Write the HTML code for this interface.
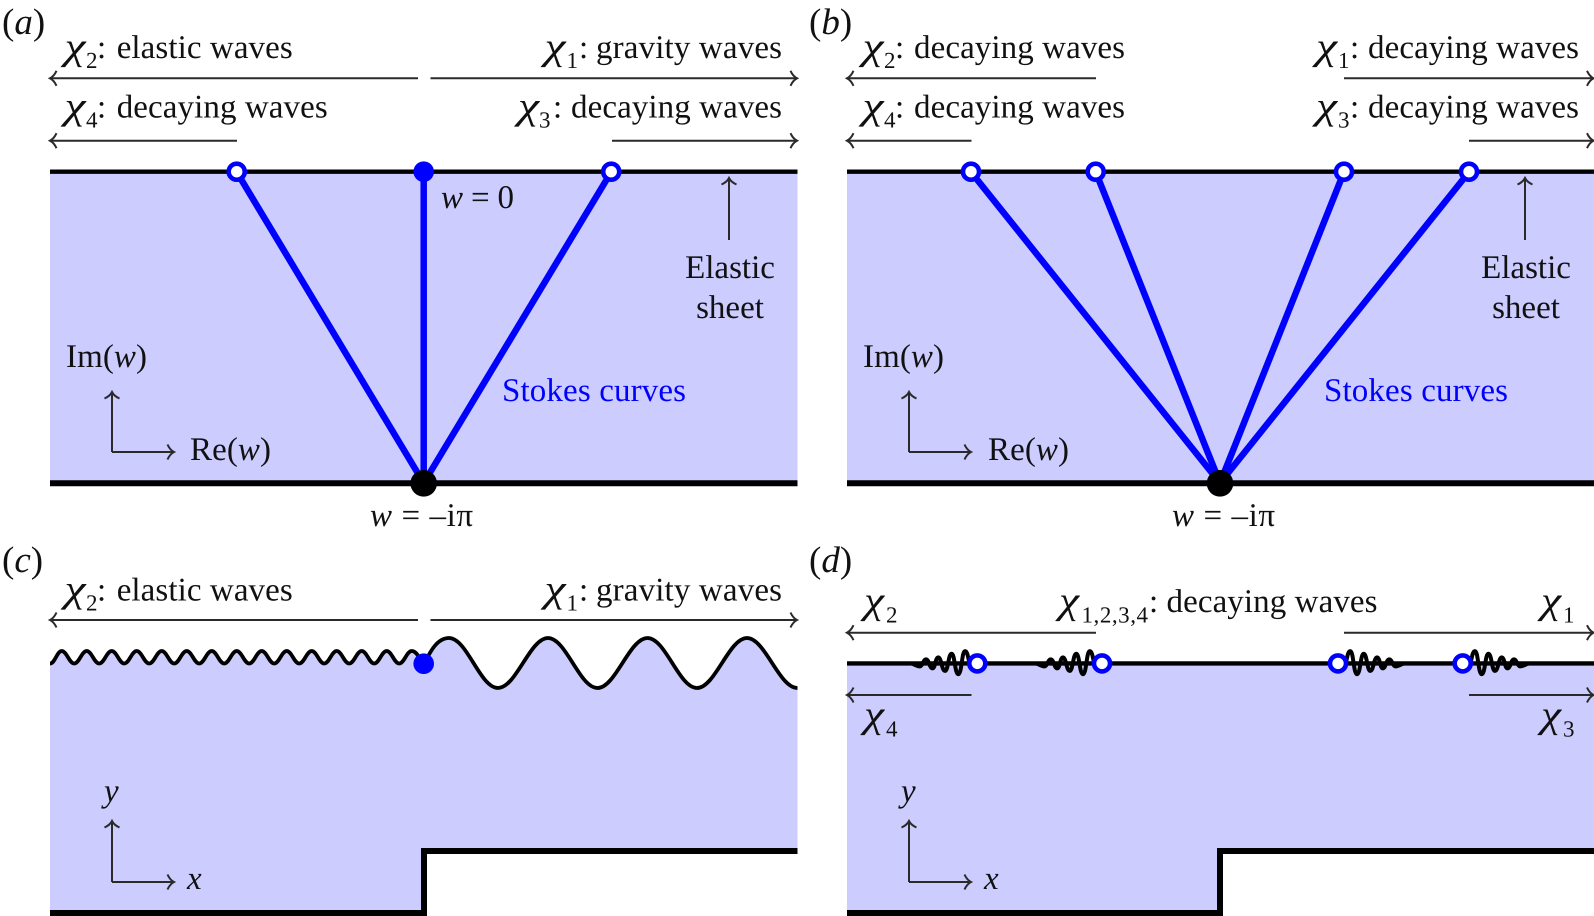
<!DOCTYPE html>
<html><head><meta charset="utf-8"><style>
html,body{margin:0;padding:0;background:#fff;width:1594px;height:916px;overflow:hidden}
svg{display:block}
text{font-family:"Liberation Serif",serif;font-size:33px;fill:#111;text-rendering:geometricPrecision}
.s{font-size:23px}
.i{font-style:italic}
.c{font-style:italic;font-size:38px}
.l{font-size:37px}
.a{stroke:#2a2a2a;stroke-width:2;fill:none;marker-end:url(#h)}
.b{stroke:#0000ff;stroke-width:6.5;fill:none}
.o{fill:#fff;stroke:#0000ff;stroke-width:4.6}
.t{stroke:#000;stroke-width:4.4;fill:none}
.w{stroke:#000;stroke-width:3.8;fill:none;stroke-linejoin:round}
</style></head><body>
<svg width="1594" height="916" viewBox="0 0 1594 916" xmlns="http://www.w3.org/2000/svg">
<defs>
<marker id="h" markerUnits="userSpaceOnUse" markerWidth="14" markerHeight="20" refX="9" refY="10" orient="auto">
<path d="M2.5 2.5Q5 8 9 10Q5 12 2.5 17.5" fill="none" stroke="#2a2a2a" stroke-width="2"/>
</marker>
<path id="dw" d="M-67 0C-64 0-61 3-57.3 3C-55 3-54-4-51.3-4C-48-4-48 5-44.7 5C-42 5-42-6-39-6C-36-6-35.5 7.5-32.3 7.5C-29 7.5-29-9.7-25.7-9.7C-22.5-9.7-22.5 10.8-19 10.8C-15.5 10.8-15.5-12.3-12.3-12.3C-9-12.3-9 0-7 0" fill="none" stroke="#000" stroke-width="4"/>
</defs>

<!-- Panel a -->
<rect x="50" y="172" width="747.5" height="311" fill="#ccccff"/>
<line x1="50" y1="171.7" x2="797.5" y2="171.7" class="t"/>
<line x1="50" y1="483.2" x2="797.5" y2="483.2" stroke="#000" stroke-width="6"/>
<line x1="236.7" y1="172" x2="423.7" y2="483" class="b"/>
<line x1="423.7" y1="172" x2="423.7" y2="483" class="b"/>
<line x1="611.2" y1="172" x2="423.7" y2="483" class="b"/>
<circle cx="236.7" cy="171.7" r="8" class="o"/>
<circle cx="423.7" cy="171.7" r="10.3" fill="#0000ff"/>
<circle cx="611.2" cy="171.7" r="8" class="o"/>
<circle cx="423.7" cy="483.3" r="13.3" fill="#000"/>
<line x1="418" y1="78.3" x2="50" y2="78.3" class="a"/>
<line x1="430.5" y1="78.3" x2="797" y2="78.3" class="a"/>
<line x1="237" y1="140.7" x2="50" y2="140.7" class="a"/>
<line x1="612" y1="140.7" x2="797" y2="140.7" class="a"/>
<line x1="729" y1="240" x2="729" y2="178" class="a"/>
<line x1="112" y1="452" x2="112" y2="392" class="a"/>
<line x1="112" y1="452" x2="174" y2="452" class="a"/>
<text x="2" y="34" class="l">(<tspan class="i">a</tspan>)</text>
<text x="64.5" y="59" class="c" textLength="21" lengthAdjust="spacingAndGlyphs">χ</text><text x="86" y="68" class="s">2</text><text x="97" y="58">:</text><text x="116.7" y="58" textLength="176">elastic waves</text>
<text x="544.5" y="59" class="c" textLength="21" lengthAdjust="spacingAndGlyphs">χ</text><text x="566.5" y="68" class="s">1</text><text x="579" y="58">:</text><text x="596" y="58" textLength="186">gravity waves</text>
<text x="64.5" y="118.5" class="c" textLength="21" lengthAdjust="spacingAndGlyphs">χ</text><text x="86" y="127.5" class="s">4</text><text x="97" y="117.7">:</text><text x="116.7" y="117.7" textLength="211">decaying waves</text>
<text x="518" y="118.5" class="c" textLength="21" lengthAdjust="spacingAndGlyphs">χ</text><text x="539" y="127.5" class="s">3</text><text x="553" y="117.7">:</text><text x="571" y="117.7" textLength="211">decaying waves</text>
<text x="441" y="208" textLength="73"><tspan class="i">w</tspan> = 0</text>
<text x="730" y="278" text-anchor="middle">Elastic</text>
<text x="730" y="318" text-anchor="middle">sheet</text>
<text x="66" y="367" textLength="81">Im(<tspan class="i">w</tspan>)</text>
<text x="190" y="460" textLength="81">Re(<tspan class="i">w</tspan>)</text>
<text x="502" y="401" textLength="184" style="fill:#0000ff">Stokes curves</text>
<text x="370" y="526" textLength="103"><tspan class="i">w</tspan> = –iπ</text>

<!-- Panel b -->
<rect x="847" y="172" width="747" height="311" fill="#ccccff"/>
<line x1="847" y1="171.7" x2="1594" y2="171.7" class="t"/>
<line x1="847" y1="483.2" x2="1594" y2="483.2" stroke="#000" stroke-width="6"/>
<line x1="971" y1="172" x2="1220" y2="483" class="b"/>
<line x1="1095.7" y1="172" x2="1220" y2="483" class="b"/>
<line x1="1344" y1="172" x2="1220" y2="483" class="b"/>
<line x1="1469" y1="172" x2="1220" y2="483" class="b"/>
<circle cx="971" cy="171.7" r="8" class="o"/>
<circle cx="1095.7" cy="171.7" r="8" class="o"/>
<circle cx="1344" cy="171.7" r="8" class="o"/>
<circle cx="1469" cy="171.7" r="8" class="o"/>
<circle cx="1220" cy="483.3" r="13.3" fill="#000"/>
<line x1="1096" y1="78.3" x2="847" y2="78.3" class="a"/>
<line x1="1344" y1="78.3" x2="1593.5" y2="78.3" class="a"/>
<line x1="971.5" y1="140.7" x2="847" y2="140.7" class="a"/>
<line x1="1469" y1="140.7" x2="1593.5" y2="140.7" class="a"/>
<line x1="1525" y1="240" x2="1525" y2="178" class="a"/>
<line x1="909" y1="452" x2="909" y2="392" class="a"/>
<line x1="909" y1="452" x2="971" y2="452" class="a"/>
<text x="809" y="34" class="l">(<tspan class="i">b</tspan>)</text>
<text x="862.5" y="59" class="c" textLength="21" lengthAdjust="spacingAndGlyphs">χ</text><text x="884" y="68" class="s">2</text><text x="895" y="58">:</text><text x="914" y="58" textLength="211">decaying waves</text>
<text x="1316" y="59" class="c" textLength="21" lengthAdjust="spacingAndGlyphs">χ</text><text x="1338" y="68" class="s">1</text><text x="1350" y="58">:</text><text x="1368" y="58" textLength="211">decaying waves</text>
<text x="862.5" y="118.5" class="c" textLength="21" lengthAdjust="spacingAndGlyphs">χ</text><text x="884" y="127.5" class="s">4</text><text x="895" y="117.7">:</text><text x="914" y="117.7" textLength="211">decaying waves</text>
<text x="1316" y="118.5" class="c" textLength="21" lengthAdjust="spacingAndGlyphs">χ</text><text x="1338" y="127.5" class="s">3</text><text x="1350" y="117.7">:</text><text x="1368" y="117.7" textLength="211">decaying waves</text>
<text x="1526" y="278" text-anchor="middle">Elastic</text>
<text x="1526" y="318" text-anchor="middle">sheet</text>
<text x="863" y="367" textLength="81">Im(<tspan class="i">w</tspan>)</text>
<text x="988" y="460" textLength="81">Re(<tspan class="i">w</tspan>)</text>
<text x="1324" y="401" textLength="184" style="fill:#0000ff">Stokes curves</text>
<text x="1172" y="526" textLength="103"><tspan class="i">w</tspan> = –iπ</text>

<!-- Panel c -->
<path d="M50 663.5C55 663.5 57 651 61.7 651
c5 0 7.5 12.5 12.5 12.5c5 0 7.5-12.5 12.5-12.5
c5 0 7.5 12.5 12.5 12.5c5 0 7.5-12.5 12.5-12.5
c5 0 7.5 12.5 12.5 12.5c5 0 7.5-12.5 12.5-12.5
c5 0 7.5 12.5 12.5 12.5c5 0 7.5-12.5 12.5-12.5
c5 0 7.5 12.5 12.5 12.5c5 0 7.5-12.5 12.5-12.5
c5 0 7.5 12.5 12.5 12.5c5 0 7.5-12.5 12.5-12.5
c5 0 7.5 12.5 12.5 12.5c5 0 7.5-12.5 12.5-12.5
c5 0 7.5 12.5 12.5 12.5c5 0 7.5-12.5 12.5-12.5
c5 0 7.5 12.5 12.5 12.5c5 0 7.5-12.5 12.5-12.5
c5 0 7.5 12.5 12.5 12.5c5 0 7.5-12.5 12.5-12.5
c5 0 7.5 12.5 12.5 12.5c5 0 7.5-12.5 12.5-12.5
c5 0 7.5 12.5 12.5 12.5c5 0 7.5-12.5 12.5-12.5
c5 0 7.5 12.5 12.5 12.5c5 0 7.5-12.5 12.5-12.5
c5 0 7.5 12.5 12.5 12.5c5 0 7.5-12.5 12.5-12.5
C416 651 418 656 424 664C430 652 437 638 449 638C467 638 480 688 498 688C516 688 530 638 548 638C566 638 579.5 688 597.5 688C615.5 688 629.5 638 647.5 638C665.5 638 679 688 697 688C715 688 729 638 747 638C765 638 779 688 797.5 688V851H424V913H50Z" fill="#ccccff"/>
<path d="M50 663.5C55 663.5 57 651 61.7 651
c5 0 7.5 12.5 12.5 12.5c5 0 7.5-12.5 12.5-12.5
c5 0 7.5 12.5 12.5 12.5c5 0 7.5-12.5 12.5-12.5
c5 0 7.5 12.5 12.5 12.5c5 0 7.5-12.5 12.5-12.5
c5 0 7.5 12.5 12.5 12.5c5 0 7.5-12.5 12.5-12.5
c5 0 7.5 12.5 12.5 12.5c5 0 7.5-12.5 12.5-12.5
c5 0 7.5 12.5 12.5 12.5c5 0 7.5-12.5 12.5-12.5
c5 0 7.5 12.5 12.5 12.5c5 0 7.5-12.5 12.5-12.5
c5 0 7.5 12.5 12.5 12.5c5 0 7.5-12.5 12.5-12.5
c5 0 7.5 12.5 12.5 12.5c5 0 7.5-12.5 12.5-12.5
c5 0 7.5 12.5 12.5 12.5c5 0 7.5-12.5 12.5-12.5
c5 0 7.5 12.5 12.5 12.5c5 0 7.5-12.5 12.5-12.5
c5 0 7.5 12.5 12.5 12.5c5 0 7.5-12.5 12.5-12.5
c5 0 7.5 12.5 12.5 12.5c5 0 7.5-12.5 12.5-12.5
c5 0 7.5 12.5 12.5 12.5c5 0 7.5-12.5 12.5-12.5
C416 651 418 656 424 664" class="w"/>
<path d="M424 664C430 652 437 638 449 638C467 638 480 688 498 688C516 688 530 638 548 638C566 638 579.5 688 597.5 688C615.5 688 629.5 638 647.5 638C665.5 638 679 688 697 688C715 688 729 638 747 638C765 638 779 688 797.5 688" class="w"/>
<path d="M50 913H424V851H797.5" fill="none" stroke="#000" stroke-width="6"/>
<circle cx="423.7" cy="663.7" r="10.3" fill="#0000ff"/>
<line x1="418" y1="620" x2="50" y2="620" class="a"/>
<line x1="430.5" y1="620" x2="797" y2="620" class="a"/>
<line x1="112" y1="882" x2="112" y2="821" class="a"/>
<line x1="112" y1="882" x2="174" y2="882" class="a"/>
<text x="2" y="572" class="l">(<tspan class="i">c</tspan>)</text>
<text x="64.5" y="601.7" class="c" textLength="21" lengthAdjust="spacingAndGlyphs">χ</text><text x="86" y="610.7" class="s">2</text><text x="97" y="600.7">:</text><text x="116.7" y="600.7" textLength="176">elastic waves</text>
<text x="544.5" y="601.7" class="c" textLength="21" lengthAdjust="spacingAndGlyphs">χ</text><text x="566.5" y="610.7" class="s">1</text><text x="579" y="600.7">:</text><text x="596" y="600.7" textLength="186">gravity waves</text>
<text x="104" y="801.7" class="i">y</text>
<text x="187" y="889" class="i">x</text>

<!-- Panel d -->
<path d="M847 663.5H1594V851H1220V913H847Z" fill="#ccccff"/>
<line x1="847" y1="663.4" x2="1594" y2="663.4" class="t"/>
<path d="M847 913H1220V851H1594" fill="none" stroke="#000" stroke-width="6"/>
<use href="#dw" transform="translate(977.3,663.4)"/>
<use href="#dw" transform="translate(1102,663.4)"/>
<use href="#dw" transform="translate(1338,663.4) scale(-1,1)"/>
<use href="#dw" transform="translate(1462.7,663.4) scale(-1,1)"/>
<circle cx="977.3" cy="663.4" r="8" class="o"/>
<circle cx="1102" cy="663.4" r="8" class="o"/>
<circle cx="1338" cy="663.4" r="8" class="o"/>
<circle cx="1462.7" cy="663.4" r="8" class="o"/>
<line x1="1096" y1="632.7" x2="847" y2="632.7" class="a"/>
<line x1="1344" y1="632.7" x2="1593.5" y2="632.7" class="a"/>
<line x1="971.5" y1="695" x2="847" y2="695" class="a"/>
<line x1="1469" y1="695" x2="1593.5" y2="695" class="a"/>
<line x1="909" y1="882" x2="909" y2="821" class="a"/>
<line x1="909" y1="882" x2="971" y2="882" class="a"/>
<text x="809" y="572" class="l">(<tspan class="i">d</tspan>)</text>
<text x="864" y="613" class="c" textLength="20" lengthAdjust="spacingAndGlyphs">χ</text><text x="886" y="622.5" class="s">2</text>
<text x="1059" y="613" class="c" textLength="20" lengthAdjust="spacingAndGlyphs">χ</text><text x="1081.5" y="622.5" class="s" textLength="66.5">1,2,3,4</text><text x="1149" y="612">:</text><text x="1166.5" y="612" textLength="211">decaying waves</text>
<text x="1541" y="613" class="c" textLength="20" lengthAdjust="spacingAndGlyphs">χ</text><text x="1563" y="622.5" class="s">1</text>
<text x="864" y="727" class="c" textLength="20" lengthAdjust="spacingAndGlyphs">χ</text><text x="886" y="736.5" class="s">4</text>
<text x="1541" y="727" class="c" textLength="20" lengthAdjust="spacingAndGlyphs">χ</text><text x="1563" y="736.5" class="s">3</text>
<text x="901" y="801.7" class="i">y</text>
<text x="984" y="889" class="i">x</text>
</svg>
</body></html>
